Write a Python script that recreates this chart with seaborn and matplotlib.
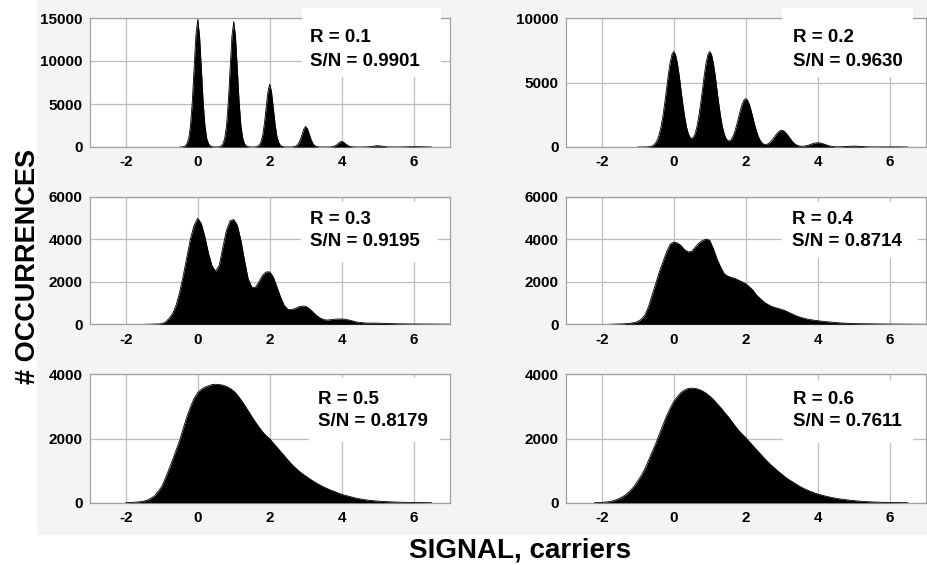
import numpy as np
import pandas as pd
import matplotlib
matplotlib.use("Agg")
import matplotlib.pyplot as plt
from matplotlib.patches import Rectangle
import seaborn as sns

# Read-noise level and resulting signal-to-noise for each panel
R_VALUES = [0.1, 0.2, 0.3, 0.4, 0.5, 0.6]
SN_VALUES = [0.9901, 0.9630, 0.9195, 0.8714, 0.8179, 0.7611]

# Histogram bin layout (first bin centre, bin width) per panel
BIN_START = [-0.5, -1.0, -1.5, -1.8, -2.0, -2.2]
BIN_STEP = [0.05, 0.05, 0.1, 0.1, 0.1, 0.1]

counts_r01 = [
    0, 0, 30, 120, 370, 1000, 2500, 5300, 9200, 13000,
    14800, 13000, 9200, 5300, 2500, 1000, 370, 120, 35, 10,
    5, 10, 30, 117, 365, 1020, 2480, 5250, 9050, 12850,
    14600, 12850, 9050, 5250, 2480, 1020, 365, 117, 30, 10,
    5, 5, 15, 60, 180, 510, 1240, 2630, 4530, 6420,
    7300, 6420, 4530, 2630, 1240, 510, 180, 60, 15, 5,
    3, 3, 5, 20, 60, 170, 410, 860, 1490, 2110,
    2400, 2110, 1490, 860, 410, 170, 60, 20, 5, 2,
    2, 2, 3, 6, 16, 45, 110, 230, 400, 570,
    650, 570, 400, 230, 110, 45, 16, 6, 3, 2,
    2, 2, 3, 5, 10, 20, 40, 70, 105, 135,
    150, 135, 105, 70, 40, 20, 10, 5, 3, 2,
    2, 2, 3, 5, 8, 12, 18, 25, 32, 37,
    40, 37, 32, 25, 18, 12, 8, 5, 3, 2,
    0,
]

counts_r02 = [
    0, 0, 0, 0, 2, 7, 16, 38, 82, 170,
    325, 590, 1000, 1600, 2400, 3390, 4490, 5590, 6530, 7170,
    7400, 7170, 6530, 5590, 4490, 3400, 2420, 1640, 1080, 760,
    650, 760, 1080, 1640, 2420, 3400, 4490, 5590, 6530, 7170,
    7400, 7170, 6530, 5590, 4490, 3390, 2410, 1620, 1040, 680,
    490, 470, 590, 850, 1230, 1720, 2270, 2830, 3310, 3630,
    3750, 3630, 3310, 2830, 2270, 1720, 1220, 820, 520, 330,
    220, 190, 220, 300, 430, 600, 790, 980, 1150, 1260,
    1300, 1260, 1150, 980, 790, 600, 420, 280, 180, 110,
    70, 56, 60, 78, 110, 150, 200, 250, 290, 320,
    330, 320, 290, 250, 200, 150, 107, 71, 45, 28,
    17, 13, 13, 17, 23, 32, 42, 53, 62, 68,
    70, 68, 62, 53, 42, 32, 23, 15, 10, 7,
    5, 5, 5, 6, 8, 10, 12, 14, 15, 16,
    16, 16, 15, 14, 12, 10, 8, 6, 5, 4,
    0,
]

counts_r03 = [
    0, 3, 5, 10, 15, 30, 100, 270, 500, 900,
    1530, 2310, 3180, 4040, 4670, 5000, 4750, 4120, 3340, 2740,
    2500, 2790, 3650, 4440, 4880, 4940, 4670, 3960, 3020, 2150,
    1760, 1730, 2000, 2310, 2470, 2470, 2230, 1760, 1290, 900,
    710, 690, 740, 820, 860, 850, 740, 580, 420, 300,
    220, 200, 220, 240, 250, 250, 240, 200, 160, 110,
    90, 70, 60, 55, 55, 55, 48, 40, 35, 30,
    25, 22, 20, 18, 16, 15, 14, 12, 11, 10,
    10, 8, 7, 6, 5, 5,
]

counts_r04 = [
    0, 5, 10, 15, 20, 35, 50, 80, 130, 240,
    440, 830, 1380, 1920, 2470, 2940, 3410, 3770, 3880, 3830,
    3720, 3520, 3410, 3440, 3640, 3830, 3950, 4020, 3960, 3570,
    3100, 2710, 2390, 2270, 2210, 2160, 2080, 2000, 1920, 1770,
    1610, 1380, 1220, 1060, 950, 860, 800, 750, 700, 640,
    560, 480, 400, 340, 290, 250, 220, 190, 170, 150,
    130, 115, 100, 85, 70, 60, 50, 42, 35, 30,
    27, 24, 22, 20, 17, 15, 13, 11, 10, 9,
    8, 7, 6, 5, 4, 3, 2, 1, 0,
]

counts_r05 = [
    0, 5, 10, 20, 30, 50, 80, 140, 210, 350,
    500, 760, 1040, 1330, 1640, 1950, 2320, 2680, 2990, 3250,
    3430, 3530, 3600, 3640, 3680, 3690, 3680, 3660, 3620, 3560,
    3480, 3360, 3210, 3040, 2870, 2690, 2520, 2360, 2210, 2090,
    1990, 1860, 1730, 1600, 1470, 1340, 1210, 1100, 1000, 910,
    830, 750, 680, 610, 550, 490, 440, 390, 350, 300,
    260, 230, 200, 170, 140, 120, 100, 85, 70, 60,
    50, 42, 35, 30, 25, 20, 15, 12, 10, 7,
    5, 4, 3, 2, 1, 0,
]

counts_r06 = [
    0, 5, 10, 20, 30, 55, 90, 140, 200, 280,
    385, 510, 680, 850, 1060, 1320, 1580, 1840, 2130, 2420,
    2700, 2940, 3150, 3300, 3430, 3510, 3560, 3570, 3560, 3530,
    3480, 3410, 3320, 3220, 3090, 2970, 2830, 2700, 2550, 2400,
    2260, 2140, 2030, 1900, 1780, 1650, 1530, 1410, 1290, 1180,
    1080, 980, 890, 800, 720, 650, 580, 510, 450, 400,
    350, 310, 270, 240, 210, 185, 160, 140, 120, 105,
    90, 77, 65, 55, 45, 37, 30, 25, 20, 16,
    12, 9, 6, 4, 3, 2, 1, 0,
]

COUNTS = [counts_r01, counts_r02, counts_r03, counts_r04, counts_r05, counts_r06]

Y_TICKS = [
    [0, 5000, 10000, 15000],
    [0, 5000, 10000],
    [0, 2000, 4000, 6000],
    [0, 2000, 4000, 6000],
    [0, 2000, 4000],
    [0, 2000, 4000],
]
X_TICKS = [-2, 0, 2, 4, 6]
X_LIMITS = (-3, 7)

# ---- figure layout (pixel geometry) ----
W, H = 927, 565
COL_LEFT = [89.7, 565.7]
AX_WIDTH = 360.0
ROWS = [(18.0, 147.0), (197.0, 324.3), (374.3, 502.7)]

# label box: (x0, y0, x1, y1), text left x, line centres y
BOXES = [
    ((302, 8, 441, 77), 310, (38, 62)),
    ((782, 8, 913, 77), 793, (38, 62)),
    ((301, 202, 438, 262), 310, (219, 242)),
    ((782, 202, 918, 258), 792, (220, 242)),
    ((309, 378, 440, 442), 318, (399, 422)),
    ((783, 380, 913, 443), 793, (399, 422)),
]

sns.set_theme(style="whitegrid")
plt.rcParams["font.family"] = ["Liberation Sans", "DejaVu Sans"]
plt.rcParams["font.weight"] = "bold"

fig = plt.figure(figsize=(W / 100, H / 100), dpi=100)
fig.patch.set_facecolor("white")


def fx(px):
    return px / W


def fy(py):
    return 1 - py / H


# light grey panel backdrop
fig.add_artist(Rectangle((fx(37), fy(535)), fx(W - 37), 535 / H,
                         transform=fig.transFigure, facecolor="#f4f4f4",
                         edgecolor="none", zorder=-5))

for i in range(6):
    row, col = divmod(i, 2)
    top, bottom = ROWS[row]
    ax = fig.add_axes([fx(COL_LEFT[col]), fy(bottom), fx(AX_WIDTH), (bottom - top) / H])
    ax.set_facecolor("white")

    n = len(COUNTS[i])
    signal = np.round(BIN_START[i] + BIN_STEP[i] * np.arange(n), 3)
    df = pd.DataFrame({"signal": signal, "count": COUNTS[i]})

    ax.fill_between(df["signal"], 0, df["count"], color="black", lw=0, zorder=3)
    sns.lineplot(data=df, x="signal", y="count", ax=ax, color="black",
                 lw=0.6, zorder=4)

    ax.set_xlim(*X_LIMITS)
    ax.set_ylim(Y_TICKS[i][0], Y_TICKS[i][-1])
    ax.set_xticks(X_TICKS)
    ax.set_yticks(Y_TICKS[i])
    ax.set_xticklabels([str(t) for t in X_TICKS])
    ax.set_yticklabels([str(t) for t in Y_TICKS[i]])
    ax.set_xlabel("")
    ax.set_ylabel("")
    ax.grid(True, color="#bdbdbd", lw=0.9)
    ax.set_axisbelow(True)
    for sp in ax.spines.values():
        sp.set_color("#a0a0a0")
        sp.set_linewidth(0.9)
    ax.tick_params(axis="both", length=0, labelsize=11, colors="black")
    ax.tick_params(axis="x", pad=6)
    ax.tick_params(axis="y", pad=5)
    for lab in ax.get_xticklabels() + ax.get_yticklabels():
        lab.set_fontweight("bold")

    (x0, y0, x1, y1), tx, (ly1, ly2) = BOXES[i]
    fig.add_artist(Rectangle((fx(x0), fy(y1)), fx(x1 - x0), (y1 - y0) / H,
                             transform=fig.transFigure, facecolor="white",
                             edgecolor="none", zorder=5))
    fig.text(fx(tx), fy(ly1), f"R = {R_VALUES[i]:.1f}", ha="left", va="center",
             fontsize=13.5, fontweight="bold", color="black", zorder=6)
    fig.text(fx(tx), fy(ly2), f"S/N = {SN_VALUES[i]:.4f}", ha="left", va="center",
             fontsize=13.5, fontweight="bold", color="black", zorder=6)

fig.text(fx(28), fy(267), "# OCCURRENCES", rotation=90, ha="center", va="center",
         fontsize=19.5, fontweight="bold", color="black")
fig.text(fx(520), fy(550), "SIGNAL, carriers", ha="center", va="center",
         fontsize=20, fontweight="bold", color="black")

fig.savefig("out.png", dpi=100, facecolor=fig.get_facecolor())
